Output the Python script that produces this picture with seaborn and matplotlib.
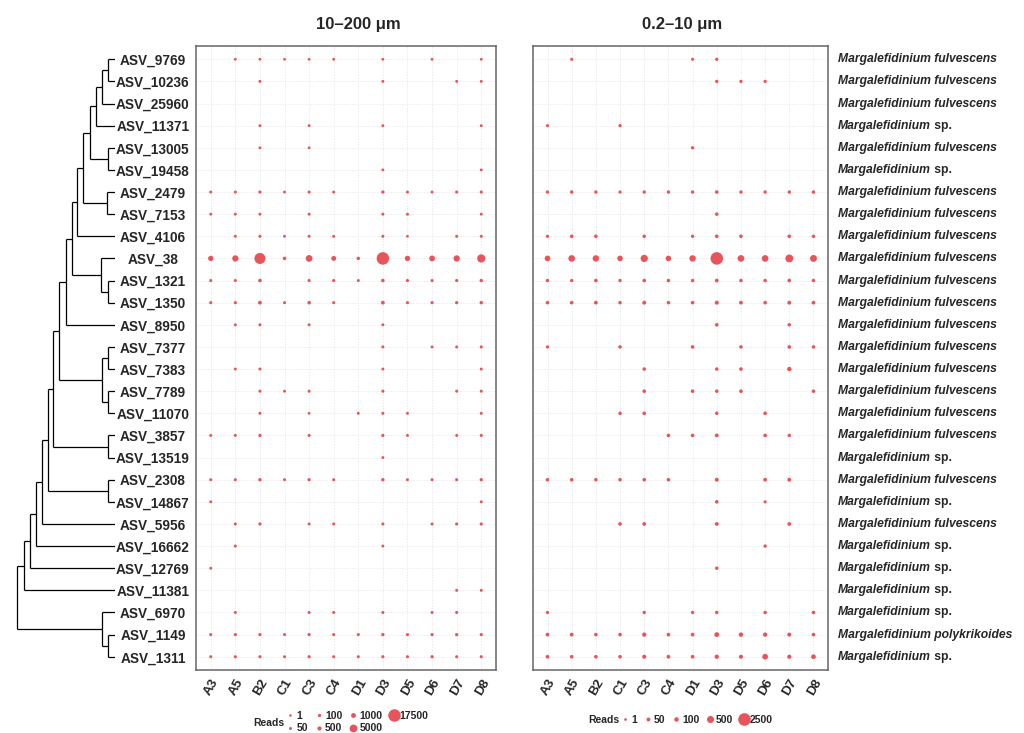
import numpy as np
import pandas as pd
import matplotlib
matplotlib.use("Agg")
import matplotlib.pyplot as plt
import matplotlib.colors as mcolors
from matplotlib.lines import Line2D
from matplotlib.transforms import blended_transform_factory
import seaborn as sns

# ---------------- data ----------------
asvs = ["ASV_9769", "ASV_10236", "ASV_25960", "ASV_11371", "ASV_13005", "ASV_19458",
        "ASV_2479", "ASV_7153", "ASV_4106", "ASV_38", "ASV_1321", "ASV_1350",
        "ASV_8950", "ASV_7377", "ASV_7383", "ASV_7789", "ASV_11070", "ASV_3857",
        "ASV_13519", "ASV_2308", "ASV_14867", "ASV_5956", "ASV_16662", "ASV_12769",
        "ASV_11381", "ASV_6970", "ASV_1149", "ASV_1311"]

species = ["fulvescens", "fulvescens", "fulvescens", "sp.", "fulvescens", "sp.",
           "fulvescens", "fulvescens", "fulvescens", "fulvescens", "fulvescens", "fulvescens",
           "fulvescens", "fulvescens", "fulvescens", "fulvescens", "fulvescens", "fulvescens",
           "sp.", "fulvescens", "sp.", "fulvescens", "sp.", "sp.",
           "sp.", "sp.", "polykrikoides", "sp."]
genus = "Margalefidinium"

stations = ["A3", "A5", "B2", "C1", "C3", "C4", "D1", "D3", "D5", "D6", "D7", "D8"]

# reads per ASV (rows) and station (columns); 0 = not detected
reads_large = [  # 10-200 um
    [0, 20, 20, 15, 15, 20, 0, 20, 0, 15, 0, 20],
    [0, 0, 40, 0, 0, 0, 0, 30, 0, 0, 30, 30],
    [0, 0, 0, 0, 0, 0, 0, 0, 0, 0, 0, 0],
    [0, 0, 30, 0, 25, 0, 0, 30, 0, 0, 0, 30],
    [0, 0, 30, 0, 20, 0, 0, 0, 0, 0, 0, 0],
    [0, 0, 0, 0, 0, 0, 0, 25, 0, 0, 0, 30],
    [40, 40, 80, 30, 60, 40, 0, 120, 40, 30, 60, 80],
    [30, 40, 40, 0, 40, 0, 0, 50, 40, 0, 0, 40],
    [0, 40, 60, 30, 40, 40, 0, 60, 15, 0, 50, 50],
    [1400, 2500, 12800, 200, 3200, 1000, 160, 17600, 1400, 1900, 2500, 5700],
    [60, 60, 200, 0, 80, 80, 40, 200, 80, 60, 80, 150],
    [80, 80, 300, 50, 200, 60, 0, 300, 60, 80, 100, 150],
    [0, 40, 50, 0, 40, 0, 0, 40, 0, 0, 0, 0],
    [0, 0, 0, 0, 0, 0, 0, 60, 0, 30, 40, 60],
    [0, 30, 40, 0, 0, 0, 0, 40, 0, 0, 0, 40],
    [0, 0, 50, 30, 40, 0, 0, 60, 0, 0, 40, 50],
    [0, 0, 40, 0, 15, 0, 30, 50, 30, 0, 0, 40],
    [40, 50, 100, 0, 50, 0, 0, 80, 40, 0, 40, 60],
    [0, 0, 0, 0, 0, 0, 0, 30, 0, 0, 0, 0],
    [50, 60, 120, 40, 100, 50, 0, 150, 40, 50, 60, 100],
    [30, 0, 0, 0, 0, 0, 0, 0, 0, 0, 0, 40],
    [0, 50, 80, 0, 40, 40, 0, 60, 0, 40, 60, 80],
    [0, 40, 0, 0, 0, 0, 0, 30, 0, 0, 0, 0],
    [30, 0, 0, 0, 0, 0, 0, 0, 0, 0, 0, 0],
    [0, 0, 0, 0, 0, 0, 0, 0, 0, 0, 40, 40],
    [0, 40, 0, 0, 50, 40, 0, 60, 0, 40, 60, 0],
    [60, 80, 80, 50, 80, 60, 60, 120, 60, 80, 100, 80],
    [50, 60, 60, 40, 80, 50, 50, 80, 50, 100, 60, 60],
]

reads_small = [  # 0.2-10 um
    [0, 10, 0, 0, 0, 0, 10, 15, 0, 0, 0, 0],
    [0, 0, 0, 0, 0, 0, 0, 20, 15, 15, 0, 0],
    [0, 0, 0, 0, 0, 0, 0, 0, 0, 0, 0, 0],
    [10, 0, 0, 15, 0, 0, 0, 0, 0, 0, 0, 0],
    [0, 0, 0, 0, 0, 0, 20, 0, 0, 0, 0, 0],
    [0, 0, 0, 0, 0, 0, 0, 0, 0, 0, 0, 0],
    [20, 25, 20, 15, 20, 20, 20, 30, 20, 20, 20, 25],
    [0, 0, 0, 0, 0, 0, 0, 25, 0, 0, 0, 0],
    [15, 30, 30, 0, 25, 0, 20, 30, 30, 0, 30, 25],
    [250, 420, 380, 230, 560, 230, 380, 2450, 430, 420, 700, 480],
    [25, 20, 30, 20, 30, 25, 25, 40, 25, 25, 35, 25],
    [30, 30, 40, 25, 50, 25, 30, 60, 40, 30, 50, 40],
    [0, 0, 0, 0, 0, 0, 0, 30, 0, 0, 25, 0],
    [15, 0, 0, 25, 0, 0, 30, 0, 25, 0, 30, 25],
    [0, 0, 0, 0, 25, 0, 0, 25, 30, 0, 90, 0],
    [0, 0, 0, 0, 30, 0, 30, 25, 30, 0, 0, 25],
    [0, 0, 0, 25, 30, 0, 0, 25, 0, 30, 0, 0],
    [0, 0, 0, 0, 0, 30, 30, 40, 0, 30, 20, 0],
    [0, 0, 0, 0, 0, 0, 0, 0, 0, 0, 0, 0],
    [25, 30, 25, 25, 30, 30, 0, 50, 0, 40, 50, 0],
    [0, 0, 0, 0, 0, 0, 0, 30, 0, 10, 0, 0],
    [0, 0, 0, 30, 40, 0, 0, 40, 0, 0, 40, 0],
    [0, 0, 0, 0, 0, 0, 0, 0, 0, 20, 0, 0],
    [0, 0, 0, 0, 0, 0, 0, 25, 0, 0, 0, 0],
    [0, 0, 0, 0, 0, 0, 0, 0, 0, 0, 0, 0],
    [15, 0, 0, 0, 20, 0, 20, 25, 0, 25, 0, 30],
    [40, 40, 30, 30, 80, 35, 40, 130, 90, 80, 60, 35],
    [35, 30, 30, 30, 60, 40, 35, 80, 60, 250, 70, 120],
]

legend_large = [1, 50, 100, 500, 1000, 5000, 17500]
legend_small = [1, 50, 100, 500, 2500]

# dendrogram merges: (node, child_a, child_b, height)
merges = [
    ("n1", "ASV_9769", "ASV_10236", 7.3),
    ("n2", "n1", "ASV_25960", 13.3),
    ("n3", "n2", "ASV_11371", 19.3),
    ("n4", "ASV_13005", "ASV_19458", 7.3),
    ("n5", "n3", "n4", 25.0),
    ("n6", "ASV_2479", "ASV_7153", 7.7),
    ("n7", "n5", "n6", 31.7),
    ("n8", "n7", "ASV_4106", 37.7),
    ("n9", "ASV_1321", "ASV_1350", 7.3),
    ("n10", "ASV_38", "n9", 14.0),
    ("n11", "n8", "n10", 43.3),
    ("n12", "n11", "ASV_8950", 49.3),
    ("n13", "ASV_7377", "ASV_7383", 7.3),
    ("n14", "ASV_7789", "ASV_11070", 7.3),
    ("n15", "n13", "n14", 13.3),
    ("n16", "n12", "n15", 55.7),
    ("n17", "ASV_3857", "ASV_13519", 7.3),
    ("n18", "n16", "n17", 61.7),
    ("n19", "ASV_2308", "ASV_14867", 7.3),
    ("n20", "n18", "n19", 67.3),
    ("n21", "n20", "ASV_5956", 73.3),
    ("n22", "n21", "ASV_16662", 79.3),
    ("n23", "n22", "ASV_12769", 85.0),
    ("n24", "n23", "ASV_11381", 91.3),
    ("n25", "ASV_1149", "ASV_1311", 7.3),
    ("n26", "ASV_6970", "n25", 13.3),
    ("root", "n24", "n26", 97.7),
]

# ---------------- style ----------------
sns.set_style("white")
plt.rcParams["font.family"] = ["Liberation Sans", "DejaVu Sans"]
RED = "#E8545A"
GRID = "#E3E3E3"
FRAME = "#666666"

W, H = 1024, 733
fig = plt.figure(figsize=(W / 100, H / 100), dpi=100)


def px_rect(x0, x1, y0, y1):
    return [x0 / W, 1 - y1 / H, (x1 - x0) / W, (y1 - y0) / H]


ax_tree = fig.add_axes(px_rect(15, 115, 46, 670))
ax1 = fig.add_axes(px_rect(196, 496, 46, 670))
ax2 = fig.add_axes(px_rect(533, 828, 46, 670))

n_rows, n_cols = len(asvs), len(stations)
YLIM = (n_rows - 1 + 0.6, -0.6)
XLIM = (-0.6, n_cols - 1 + 0.6)


def long_frame(matrix):
    arr = np.array(matrix, dtype=float)
    rr, cc = np.meshgrid(np.arange(n_rows), np.arange(n_cols), indexing="ij")
    df = pd.DataFrame({"row": rr.ravel(), "col": cc.ravel(), "reads": arr.ravel()})
    return df[df["reads"] > 0]


# ggplot-like area scale: diameter linear in sqrt(value)
D0, K = 2.5, 10.0  # px
S_MIN = (D0 * 0.72) ** 2
S_MAX = ((D0 + K) * 0.72) ** 2


def make_norm(vmax):
    c = D0 / K * np.sqrt(vmax)
    fwd = lambda v: (c + np.sqrt(np.clip(v, 0, None))) ** 2
    inv = lambda y: (np.sqrt(y) - c) ** 2
    return mcolors.FuncNorm((fwd, inv), vmin=0, vmax=vmax)


def size_of(norm, v):
    return S_MIN + float(norm(v)) * (S_MAX - S_MIN)


panels = [(ax1, reads_large), (ax2, reads_small)]
norms = []
for ax, mat in panels:
    df = long_frame(mat)
    vmax = float(df["reads"].max())
    norm = make_norm(vmax)
    norms.append(norm)
    for i in range(n_rows):
        ax.axhline(i, color=GRID, lw=0.5, ls=(0, (2, 2)), zorder=0)
    for j in range(n_cols):
        ax.axvline(j, color=GRID, lw=0.5, ls=(0, (2, 2)), zorder=0)
    sns.scatterplot(data=df, x="col", y="row", size="reads", sizes=(S_MIN, S_MAX),
                    size_norm=norm, color=RED, linewidth=0, legend=False, ax=ax,
                    zorder=3)
    ax.set_xlim(*XLIM)
    ax.set_ylim(*YLIM)
    ax.set_xlabel("")
    ax.set_ylabel("")
    ax.set_xticks(range(n_cols))
    ax.set_xticklabels(stations, rotation=60, ha="right", va="top",
                       rotation_mode="anchor", fontsize=9.5, fontweight="bold")
    ax.tick_params(axis="x", length=3, width=0.8, color="black", pad=2)
    for sp in ax.spines.values():
        sp.set_visible(True)
        sp.set_color(FRAME)
        sp.set_linewidth(1.1)
    ax.grid(False)

# left panel y labels
ax1.set_yticks(range(n_rows))
ax1.set_yticklabels(asvs, fontsize=9.8, fontweight="bold")
ax1.tick_params(axis="y", length=3, width=0.8, color="black", pad=28)
for lab in ax1.get_yticklabels():
    lab.set_horizontalalignment("center")
ax2.set_yticks([])

# taxonomy labels on the right
tr = blended_transform_factory(ax2.transAxes, ax2.transData)
for i, sp_name in enumerate(species):
    if sp_name == "sp.":
        t = ax2.text(1.034, i, genus, transform=tr, ha="left", va="center",
                     fontsize=8.7, fontweight="bold", style="italic", clip_on=False)
        ax2.annotate(" sp.", xy=(1, 0), xycoords=t, ha="left", va="bottom",
                     fontsize=8.7, fontweight="bold")
    else:
        ax2.text(1.034, i, f"{genus} {sp_name}", transform=tr, ha="left", va="center",
                 fontsize=8.7, fontweight="bold", style="italic", clip_on=False)

# titles
fig.text(358 / W, 1 - 24 / H, "10–200 μm", ha="center", va="center",
         fontsize=12, fontweight="bold")
fig.text(682 / W, 1 - 24 / H, "0.2–10 μm", ha="center", va="center",
         fontsize=12, fontweight="bold")

# ---------------- dendrogram ----------------
ypos = {name: float(i) for i, name in enumerate(asvs)}
hpos = {name: 0.0 for name in asvs}
for node, a, b, h in merges:
    ypos[node] = (ypos[a] + ypos[b]) / 2
    hpos[node] = h
    for ch in (a, b):
        ax_tree.plot([h, hpos[ch]], [ypos[ch], ypos[ch]], color="black", lw=0.9,
                     solid_capstyle="butt")
    ax_tree.plot([h, h], [ypos[a], ypos[b]], color="black", lw=0.9,
                 solid_capstyle="butt")
ax_tree.set_xlim(100, 0)
ax_tree.set_ylim(*YLIM)
ax_tree.axis("off")

# ---------------- legends ----------------
def legend_handles(norm, values):
    hs = [Line2D([], [], marker="o", ls="", color=RED, markeredgewidth=0,
                 markersize=np.sqrt(size_of(norm, v))) for v in values]
    return hs, [str(v) for v in values]


hs, ls = legend_handles(norms[0], legend_large)
fig.legend(hs, ls, loc="center left", bbox_to_anchor=(285 / W, 1 - 722 / H), ncol=4,
           frameon=False, handletextpad=0.1, columnspacing=0.55, handlelength=1.0,
           borderpad=0, borderaxespad=0, labelspacing=0.25,
           prop={"size": 7.5, "weight": "bold"})
fig.text(253 / W, 1 - 723 / H, "Reads", ha="left", va="center", fontsize=7.5,
         fontweight="bold")

hs, ls = legend_handles(norms[1], legend_small)
fig.legend(hs, ls, loc="center left", bbox_to_anchor=(620 / W, 1 - 720 / H), ncol=5,
           frameon=False, handletextpad=0.1, columnspacing=0.5, handlelength=1.0,
           borderpad=0, borderaxespad=0, prop={"size": 7.5, "weight": "bold"})
fig.text(588 / W, 1 - 720 / H, "Reads", ha="left", va="center", fontsize=7.5,
         fontweight="bold")

fig.savefig("out.png", dpi=100, facecolor="white")
